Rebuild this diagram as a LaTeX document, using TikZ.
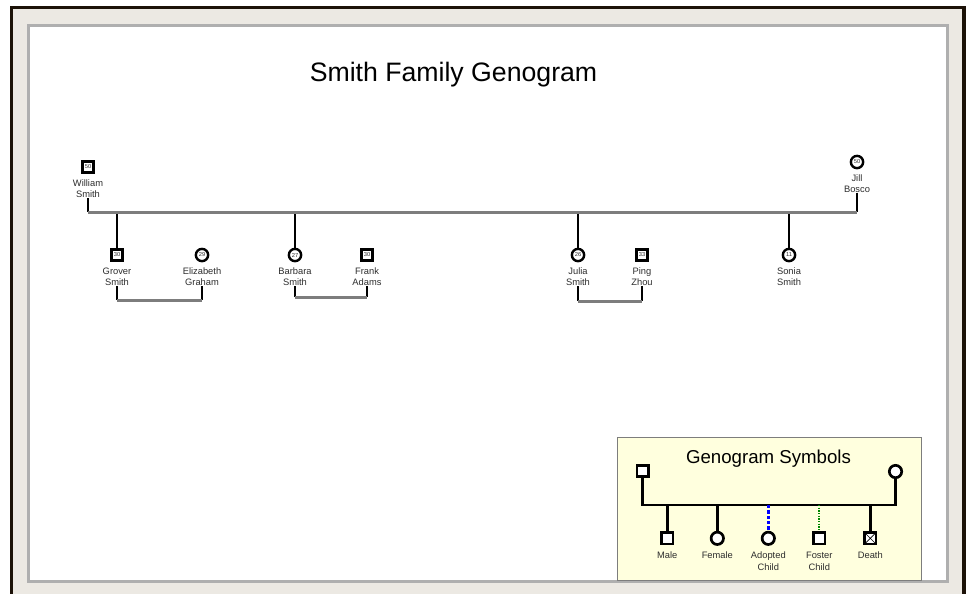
\documentclass[tikz,border=0pt]{standalone}
\usepackage{fontspec}
\setmainfont{Liberation Sans}
\usetikzlibrary{backgrounds}
\definecolor{framedark}{RGB}{28,18,8}
\definecolor{framebeige}{RGB}{236,233,227}
\definecolor{shadowgray}{RGB}{175,175,175}
\definecolor{linegray}{RGB}{125,125,125}
\definecolor{txt}{RGB}{45,45,45}
\definecolor{legendfill}{RGB}{255,255,222}
\definecolor{fostergreen}{RGB}{0,135,0}
\tikzset{
  msym/.style={draw=black, fill=white, line width=1.8pt, minimum size=8.3pt, inner sep=0pt, font=\fontsize{4.3}{4.5}\selectfont, text=txt},
  fsym/.style={msym, circle, minimum size=9.2pt},
  nm/.style={font=\fontsize{7}{8}\selectfont, text=txt, anchor=base, inner sep=0.4pt, fill=white},
  desc/.style={line width=2.1pt, draw=black},
  marr/.style={line width=2.25pt, draw=linegray},
  tickline/.style={line width=0.5pt, draw=gray},
  lmsym/.style={draw=black, fill=white, line width=2pt, minimum size=8.5pt, inner sep=0pt},
  lfsym/.style={lmsym, circle, minimum size=9.3pt},
  lline/.style={line width=2pt, draw=black},
  lab/.style={font=\fontsize{7}{8.25}\selectfont, text=txt, anchor=base, inner sep=0pt},
}
\begin{document}
\begin{tikzpicture}[x=0.75pt,y=-0.75pt]
\useasboundingbox (0,0) rectangle (966,594);
% frame
\fill[white] (0,0) rectangle (966,594);
\fill[framedark] (10,6) rectangle (966,594);
\fill[framebeige] (13,9) rectangle (962,594);
\fill[shadowgray] (27,24) rectangle (949,583);
\fill[white] (30,27) rectangle (946,580);

% title
\node[font=\fontsize{20}{24}\selectfont, anchor=base, inner sep=0pt] (title) at (453.5,81) {Smith Family Genogram};

% people
\newcommand{\person}[7]{%
  \node[#4] (#1) at (#2,#3) {#5};
  \node[nm] (#1a) at (#2,#3+19.5) {#6};
  \node[nm] (#1b) at (#2,#3+30.5) {#7};
  \begin{pgfonlayer}{background}
    \draw[tickline] (#1.center) -- (#1b.south);
  \end{pgfonlayer}
}
\person{w}{88}{167}{msym}{50}{William}{Smith}
\person{j}{857}{162}{fsym}{50}{Jill}{Bosco}
\person{g}{117}{255}{msym}{30}{Grover}{Smith}
\person{e}{202}{255}{fsym}{29}{Elizabeth}{Graham}
\person{b}{295}{255}{fsym}{27}{Barbara}{Smith}
\person{f}{367}{255}{msym}{30}{Frank}{Adams}
\person{ju}{578}{255}{fsym}{26}{Julia}{Smith}
\person{p}{642}{255}{msym}{33}{Ping}{Zhou}
\person{s}{789}{255}{fsym}{11}{Sonia}{Smith}

% parents' marriage
\coordinate (m1) at (88,212);
\coordinate (m2) at (857,212);
\draw[desc] (wb.south) -- (m1);
\draw[desc] (jb.south) -- (m2);
\coordinate (cg) at (117,212);
\coordinate (cb) at (295,212);
\coordinate (cj) at (578,212);
\coordinate (cs) at (789,212);
\draw[desc] (cg) -- (g.north);
\draw[desc] (cb) -- (b.north);
\draw[desc] (cj) -- (ju.north);
\draw[desc] (cs) -- (s.north);
\draw[marr] (m1) -- (m2);

% couples
\coordinate (g1) at (117,300); \coordinate (e1) at (202,300);
\draw[desc] (gb.south) -- (g1);
\draw[desc] (eb.south) -- (e1);
\draw[marr] (g1) -- (e1);
\coordinate (b1) at (295,297); \coordinate (f1) at (367,297);
\draw[desc] (bb.south) -- (b1);
\draw[desc] (fb.south) -- (f1);
\draw[marr] (b1) -- (f1);
\coordinate (ju1) at (578,301); \coordinate (p1) at (642,301);
\draw[desc] (jub.south) -- (ju1);
\draw[desc] (pb.south) -- (p1);
\draw[marr] (ju1) -- (p1);

% legend
\node[draw=linegray, line width=0.75pt, fill=legendfill, minimum width=304*0.75pt, minimum height=143*0.75pt, inner sep=0pt] (legend) at (769,509) {};
\node[font=\fontsize{14}{16}\selectfont, anchor=base, inner sep=0pt] (ltitle) at (768.5,463.5) {Genogram Symbols};
\node[lmsym] (lm) at (642.5,471) {};
\node[lfsym] (lf) at (895.5,471.5) {};
\coordinate (lm1) at (642.5,505);
\coordinate (lf1) at (895.5,505);
\draw[lline] (lm.south) -- (lm1) -- (lf1) -- (lf.south);
\node[lmsym] (male) at (667.3,538.3) {};
\node[lfsym] (female) at (717.3,538.3) {};
\node[lfsym] (adopted) at (768.3,538.3) {};
\node[lmsym] (foster) at (819.3,538.3) {};
\node[lmsym, path picture={\draw[line width=0.5pt] (path picture bounding box.north west) -- (path picture bounding box.south east) (path picture bounding box.north east) -- (path picture bounding box.south west);}] (death) at (870.3,538.3) {};
\coordinate (k1) at (667.3,505);
\coordinate (k2) at (717.3,505);
\coordinate (k3) at (768.3,505);
\coordinate (k4) at (819.3,505);
\coordinate (k5) at (870.3,505);
\draw[lline] (k1) -- (male.north);
\draw[lline] (k2) -- (female.north);
\draw[line width=2pt, draw=blue, dash pattern=on 2.6pt off 1.4pt] (k3) -- (adopted.north);
\draw[line width=1.6pt, draw=fostergreen, dash pattern=on 1pt off 1pt] (k4) -- (foster.north);
\draw[lline] (k5) -- (death.north);
\node[lab] (tmale) at (667.3,558.5) {Male};
\node[lab] (tfemale) at (717.3,558.5) {Female};
\node[lab] (tadopted) at (768.3,558.5) {Adopted};
\node[lab] (tadopted2) at (768.3,570) {Child};
\node[lab] (tfoster) at (819.3,558.5) {Foster};
\node[lab] (tfoster2) at (819.3,570) {Child};
\node[lab] (tdeath) at (870.3,558.5) {Death};
\end{tikzpicture}
\end{document}
